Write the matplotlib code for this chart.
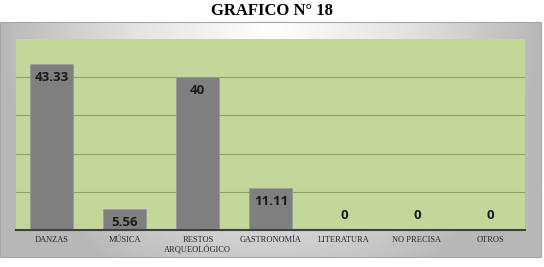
import numpy as np
import matplotlib.pyplot as plt
from matplotlib.colors import LinearSegmentedColormap

categories = ["DANZAS", "MÚSICA", "RESTOS\nARQUEOLÓGICO", "GASTRONOMÍA",
              "LITERATURA", "NO PRECISA", "OTROS"]
values = [43.33, 5.56, 40, 11.11, 0, 0, 0]
value_labels = ["43.33", "5.56", "40", "11.11", "0", "0", "0"]

fig = plt.figure(figsize=(5.44, 2.67), dpi=100)
fig.patch.set_facecolor("white")

# gray frame with a soft light centre (Excel style gradient)
bg = fig.add_axes([0, 10 / 267, 541 / 544, 235 / 267])
gx, gy = np.meshgrid(np.linspace(-1, 1, 300), np.linspace(0, 1, 150))
dist = np.sqrt((gx / 1.0) ** 2 + ((1 - gy) / 1.3) ** 2)
cmap = LinearSegmentedColormap.from_list("frame", ["#ffffff", "#e3e3e3", "#b8b8b8"])
bg.imshow(np.clip(dist, 0, 1), cmap=cmap, aspect="auto", origin="lower",
          extent=[0, 1, 0, 1])
bg.set_xticks([])
bg.set_yticks([])
for s in bg.spines.values():
    s.set_color("#a6a6a6")
    s.set_linewidth(0.8)

ax = fig.add_axes([16 / 544, 37 / 267, 509 / 544, 191 / 267])
ax.set_facecolor("#c4d79b")
x = np.arange(len(categories))
ax.bar(x, values, width=0.59, color="#7f7f7f", edgecolor="#9a9a9a",
       linewidth=0.6, zorder=3)

ax.set_ylim(0, 50)
ax.set_xlim(-0.49, 6.48)
ax.set_yticks([10, 20, 30, 40])
ax.yaxis.grid(True, color="#8aa565", linewidth=0.8, zorder=0)
ax.tick_params(axis="y", left=False, labelleft=False)
ax.tick_params(axis="x", length=0, pad=4)
ax.set_xticks(x)
ax.set_xticklabels(categories, fontsize=6, family="Liberation Serif",
                   color="#262626", linespacing=1.3)
for side in ["top", "right", "left"]:
    ax.spines[side].set_visible(False)
ax.spines["bottom"].set_color("#404040")
ax.spines["bottom"].set_linewidth(1.5)
ax.spines["bottom"].set_zorder(4)

for xi, v, lab in zip(x, values, value_labels):
    if v > 0:
        ax.annotate(lab, (xi, v), xytext=(0, -5), textcoords="offset points",
                    ha="center", va="top", fontsize=9.5, fontweight="bold",
                    family="Open Sans", color="#1a1a1a", zorder=5)
    else:
        ax.annotate(lab, (xi, v), xytext=(0, 6), textcoords="offset points",
                    ha="center", va="bottom", fontsize=9.5, fontweight="bold",
                    family="Open Sans", color="#1a1a1a", zorder=5)

fig.text(0.5, 1 - 11 / 267, "GRAFICO N° 18", ha="center", va="center",
         fontsize=12, fontweight="bold", family="Liberation Serif")

fig.savefig("out.png", dpi=100)
